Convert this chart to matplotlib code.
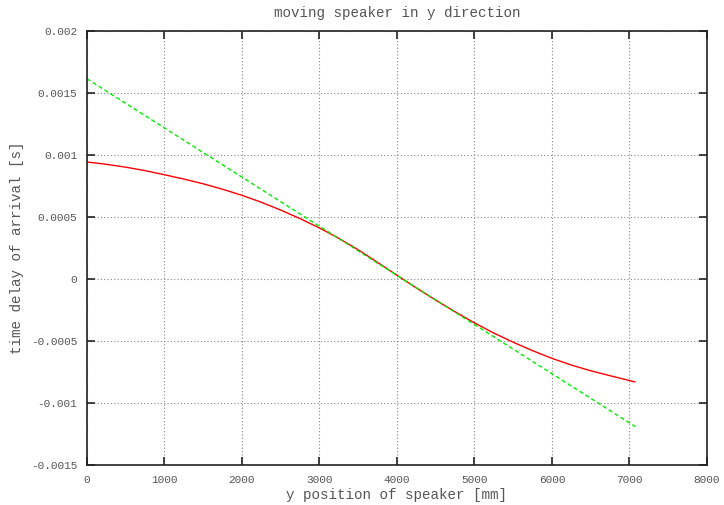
import matplotlib
matplotlib.use('Agg')
import matplotlib.pyplot as plt

# values
y_pos = [0, 250, 500, 750, 1000, 1250, 1500, 1750, 2000, 2250, 2500, 2750, 3000, 3250,
         3500, 3750, 4000, 4250, 4500, 4750, 5000, 5250, 5500, 5750, 6000, 6250, 6500,
         6750, 7070]
delay = [0.000944, 0.000925, 0.000902, 0.000874, 0.000841, 0.000806, 0.000768, 0.000724,
         0.000675, 0.000619, 0.000556, 0.000487, 0.000412, 0.000328, 0.000236, 0.000134,
         0.000030, -0.000072, -0.000170, -0.000264, -0.000354, -0.000436, -0.000510,
         -0.000578, -0.000640, -0.000694, -0.000740, -0.000780, -0.000830]

lin_pos = [0, 7075]
lin_delay = [0.001615, -0.001190]

xticks = [0, 1000, 2000, 3000, 4000, 5000, 6000, 7000, 8000]
yticks = [-0.0015, -0.001, -0.0005, 0, 0.0005, 0.001, 0.0015, 0.002]
ylabels = ['-0.0015', '-0.001', '-0.0005', '0', '0.0005', '0.001', '0.0015', '0.002']

plt.rcParams['font.family'] = ['Liberation Mono', 'DejaVu Sans Mono']
plt.rcParams['font.size'] = 8
txt = '#555555'

fig = plt.figure(figsize=(7.24, 5.05), dpi=100)
ax = fig.add_axes([0.120, 0.0792, 0.8565, 0.8594])

ax.plot(y_pos, delay, color='red', lw=1)
ax.plot(lin_pos, lin_delay, color='#00ee00', lw=1, dashes=(3, 2))

ax.set_xlim(0, 8000)
ax.set_ylim(-0.0015, 0.002)
ax.set_xticks(xticks)
ax.set_xticklabels([str(t) for t in xticks])
ax.set_yticks(yticks)
ax.set_yticklabels(ylabels)
ax.grid(True, color='#888888', linestyle=(0, (1, 2)), lw=0.8)
ax.tick_params(direction='in', length=6, width=1.2, top=True, right=True,
               colors='#222222', labelcolor=txt, pad=7)
for s in ax.spines.values():
    s.set_linewidth(1.2)
    s.set_color('#222222')

ax.set_title('moving speaker in y direction', color=txt, fontsize=10.3, pad=10)
ax.set_xlabel('y position of speaker [mm]', color=txt, fontsize=10.3, labelpad=2)
ax.set_ylabel('time delay of arrival [s]', color=txt, fontsize=10.3, labelpad=5)

fig.savefig('out.png', dpi=100)
